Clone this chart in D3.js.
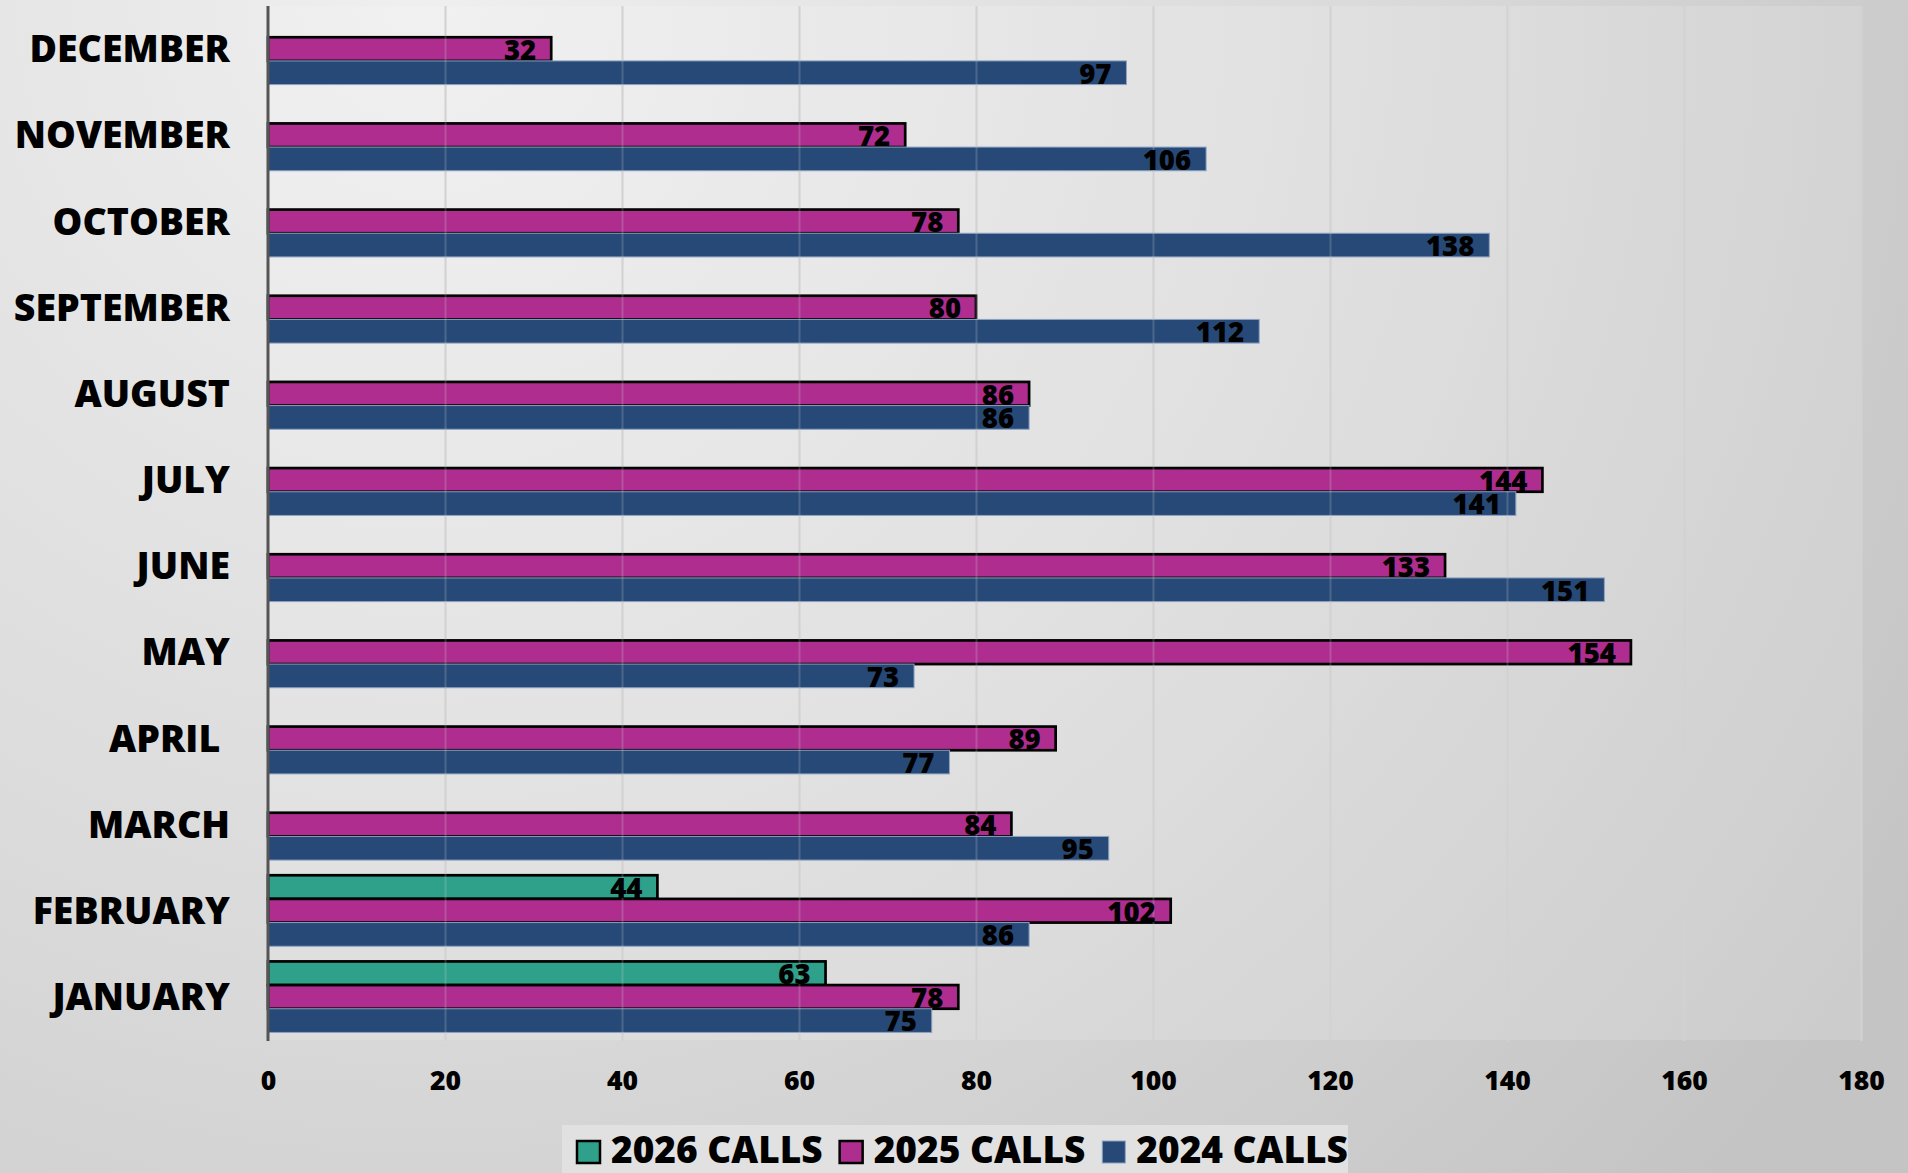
<!DOCTYPE html>
<html>
<head>
<meta charset="utf-8">
<script src="https://cdn.jsdelivr.net/npm/d3@7/dist/d3.min.js"></script>
<style>
  html, body { margin: 0; padding: 0; }
  body { width: 1908px; height: 1173px; overflow: hidden; }
  text { font-family: "Open Sans", "Noto Sans", sans-serif; font-weight: 800; fill: #000; }
</style>
</head>
<body>
<svg id="chart" width="1908" height="1173"></svg>
<script>
// ---- data ----
const months = ["DECEMBER", "NOVEMBER", "OCTOBER", "SEPTEMBER", "AUGUST", "JULY",
                "JUNE", "MAY", "APRIL ", "MARCH", "FEBRUARY", "JANUARY"];
const seriesNames = ["2026 CALLS", "2025 CALLS", "2024 CALLS"];
const calls2026 = [null, null, null, null, null, null, null, null, null, null, 44, 63];
const calls2025 = [32, 72, 78, 80, 86, 144, 133, 154, 89, 84, 102, 78];
const calls2024 = [97, 106, 138, 112, 86, 141, 151, 73, 77, 95, 86, 75];
const xTicks = [0, 20, 40, 60, 80, 100, 120, 140, 160, 180];
const seriesColors = ["#2fa08a", "#ae2d8f", "#264977"];

const seriesValues = [calls2026, calls2025, calls2024];

// ---- layout ----
const svg = d3.select("#chart");
const W = 1908, H = 1173;
const plot = { left: 268, right: 1861, top: 6, bottom: 1040 };

const defs = svg.append("defs");
const bg = defs.append("radialGradient").attr("id", "bg")
  .attr("gradientUnits", "userSpaceOnUse")
  .attr("cx", 420).attr("cy", 0).attr("r", 1750);
bg.append("stop").attr("offset", "0").attr("stop-color", "#efefef");
bg.append("stop").attr("offset", "0.55").attr("stop-color", "#dadada");
bg.append("stop").attr("offset", "1").attr("stop-color", "#c4c4c4");

const gridGrad = defs.append("linearGradient").attr("id", "gridg")
  .attr("gradientUnits", "userSpaceOnUse")
  .attr("x1", 0).attr("y1", plot.top).attr("x2", 0).attr("y2", plot.bottom);
gridGrad.append("stop").attr("offset", "0").attr("stop-color", "#d2d2d2");
gridGrad.append("stop").attr("offset", "1").attr("stop-color", "#8a8a8a");

svg.append("rect").attr("width", W).attr("height", H).attr("fill", "url(#bg)");
svg.append("rect")
  .attr("x", plot.left).attr("y", plot.top)
  .attr("width", plot.right - plot.left).attr("height", plot.bottom - plot.top)
  .attr("fill", "#ffffff").attr("opacity", 0.15);

const x = d3.scaleLinear().domain([0, 180]).range([plot.left, plot.right]);
const y = d3.scaleBand().domain(months).range([plot.top, plot.bottom])
  .paddingInner(0.176).paddingOuter(0.088);
const ySub = d3.scaleBand().domain(seriesNames).range([0, y.bandwidth()]);

// gridlines
const gridAxis = d3.axisBottom(x).tickValues(xTicks.filter(d => d > 0))
  .tickSize(-(plot.bottom - plot.top) - 1).tickFormat("");
function drawGrid(opacity) {
  const g = svg.append("g").attr("transform", `translate(0,${plot.bottom + 1})`).call(gridAxis);
  g.select(".domain").remove();
  g.selectAll("line").attr("stroke", "url(#gridg)").attr("stroke-width", 2).attr("opacity", opacity);
  return g;
}
drawGrid(1);

// bars
const flat = [];
months.forEach((m, i) => {
  seriesNames.forEach((s, j) => {
    const v = seriesValues[j][i];
    if (v != null) flat.push({ month: m, series: s, si: j, value: v });
  });
});

const barG = svg.append("g");
barG.selectAll("rect").data(flat).join("rect")
  .attr("x", x(0))
  .attr("y", d => y(d.month) + ySub(d.series))
  .attr("width", d => x(d.value) - x(0))
  .attr("height", ySub.bandwidth())
  .attr("fill", d => seriesColors[d.si])
  .attr("stroke", d => d.si < 2 ? "#000" : "#8da2c0")
  .attr("stroke-width", d => d.si < 2 ? 2.7 : 1);

// faint gridlines over bars
drawGrid(0.22);

// y axis line
svg.append("line")
  .attr("x1", plot.left).attr("x2", plot.left)
  .attr("y1", plot.top).attr("y2", plot.bottom + 1)
  .attr("stroke", "#555").attr("stroke-width", 3);

// value labels
svg.append("g").selectAll("text").data(flat).join("text")
  .attr("x", d => x(d.value) - 15)
  .attr("y", d => y(d.month) + ySub(d.series) + ySub.bandwidth() - 1)
  .attr("text-anchor", "end")
  .attr("font-size", 27.5)
  .text(d => d.value);

// category labels
svg.append("g").selectAll("text").data(months).join("text")
  .attr("x", 230)
  .attr("y", d => y(d) + y.bandwidth() / 2)
  .attr("dy", "0.35em")
  .attr("text-anchor", "end")
  .attr("font-size", 37.5)
  .style("white-space", "pre")
  .text(d => d);

// x tick labels
const xAxis = d3.axisBottom(x).tickValues(xTicks).tickSize(0).tickPadding(0);
const xg = svg.append("g").attr("transform", `translate(0,1080)`).call(xAxis);
xg.select(".domain").remove();
xg.selectAll("text")
  .attr("y", 0).attr("dy", "0.36em")
  .attr("font-size", 26.5)
  .style("font-family", '"Open Sans", sans-serif').style("font-weight", 800).style("fill", "#000");

// legend
const leg = svg.append("g");
leg.append("rect").attr("x", 562).attr("y", 1125).attr("width", 786).attr("height", 60)
  .attr("fill", "#e1e1e1");
let lx = 577;
seriesNames.forEach((s, i) => {
  leg.append("rect").attr("x", lx).attr("y", 1141).attr("width", 23).attr("height", 22)
    .attr("fill", seriesColors[i])
    .attr("stroke", i < 2 ? "#000" : "#8da2c0").attr("stroke-width", i < 2 ? 2.5 : 1);
  const t = leg.append("text").attr("x", lx + 34).attr("y", 1163)
    .attr("font-size", 37).text(s);
  lx = lx + 34 + t.node().getComputedTextLength() + 17;
});
</script>
</body>
</html>
